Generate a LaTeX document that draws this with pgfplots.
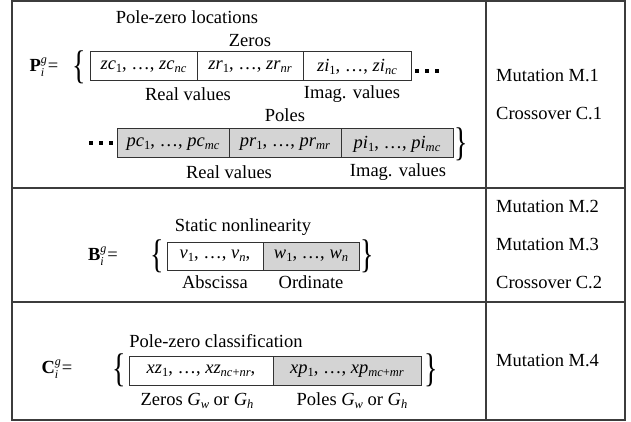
\documentclass[border=0pt]{standalone}
\usepackage{fontspec}
\setmainfont{Liberation Serif}
\usepackage{graphicx}
\usepackage{pgfplots}
\pgfplotsset{compat=1.18}
\definecolor{cellgray}{RGB}{212,212,212}
\definecolor{framec}{RGB}{60,60,60}
\definecolor{boxc}{RGB}{50,50,50}
\newcommand{\sbs}[1]{\raisebox{-0.35ex}{\fontsize{12.5}{13}\selectfont #1}}
\newcommand{\sbi}[1]{\raisebox{-0.6ex}{\fontsize{12}{13}\selectfont #1}}
\newcommand{\sps}[1]{\raisebox{0.95ex}{\fontsize{12}{13}\selectfont #1}}
\newcommand{\lbr}{\scalebox{0.7}[1]{\fontsize{40}{40}\selectfont\{}}
\newcommand{\rbr}{\scalebox{0.7}[1]{\fontsize{40}{40}\selectfont\}}}
\newcommand{\vecname}[3]{\textbf{#1}\makebox[7pt][l]{\rlap{\sps{\textit{#2}}}\sbi{\textit{#3}}}=}
\begin{document}
\begin{tikzpicture}
\begin{axis}[width=631pt, height=422pt, scale only axis,
  xmin=0, xmax=631, ymin=0, ymax=422, y dir=reverse,
  hide axis, clip=false]
\tikzset{t/.style={font=\fontsize{18.5}{21}\selectfont, inner sep=0pt},
         cell/.style={draw=boxc, line width=1pt}}
\fill[white] (0,0) rectangle (631,422);
% ---------- frame ----------
\draw[framec, line width=1.4pt] (12,1) rectangle (625,420);
\draw[framec, line width=1.2pt] (486,1) -- (486,420);
\draw[framec, line width=1.4pt] (12,188) -- (625,188);
\draw[framec, line width=1.4pt] (12,302) -- (625,302);
% ---------- row 1 ----------
\node[t] at (187,17) {Pole-zero locations};
\node[t] at (250,41) {Zeros};
\node[t] at (44,67) {\vecname{P}{g}{i}};
\node[t] at (79,67) {\lbr};
\draw[cell] (90,52) rectangle (197,81);
\draw[cell] (197,52) rectangle (303,81);
\draw[cell] (303,52) rectangle (411,81);
\node[t] at (143.5,67) {\textit{zc}\sbs{1}, …, \textit{zc}\sbs{\textit{nc}}};
\node[t] at (250,67) {\textit{zr}\sbs{1}, …, \textit{zr}\sbs{\textit{nr}}};
\node[t] at (357,67) {\textit{zi}\sbs{1}, …, \textit{zi}\sbs{\textit{nc}}};
\fill[black] (415,69) rectangle (419,73);
\fill[black] (425,69) rectangle (429,73);
\fill[black] (435,69) rectangle (439,73);
\node[t] at (188,94) {Real values};
\node[t] at (352,94) {Imag. values};
\node[t] at (285,115) {Poles};
\fill[black] (89,141) rectangle (93,145);
\fill[black] (99,141) rectangle (103,145);
\fill[black] (109,141) rectangle (113,145);
\draw[cell, fill=cellgray] (117,129) rectangle (229,158);
\draw[cell, fill=cellgray] (229,129) rectangle (341,158);
\draw[cell, fill=cellgray] (341,129) rectangle (453,158);
\node[t] at (173,144) {\textit{pc}\sbs{1}, …, \textit{pc}\sbs{\textit{mc}}};
\node[t] at (285,144) {\textit{pr}\sbs{1}, …, \textit{pr}\sbs{\textit{mr}}};
\node[t] at (397,144) {\textit{pi}\sbs{1}, …, \textit{pi}\sbs{\textit{mc}}};
\node[t] at (461,144) {\rbr};
\node[t] at (229,172) {Real values};
\node[t] at (398,172) {Imag. values};
\node[t, anchor=west] at (496,76) {Mutation M.1};
\node[t, anchor=west] at (496,114) {Crossover C.1};
% ---------- row 2 ----------
\node[t] at (243,227) {Static nonlinearity};
\node[t] at (103,256) {\vecname{B}{g}{i}};
\node[t] at (157,256) {\lbr};
\draw[cell] (167,242) rectangle (263,270);
\draw[cell, fill=cellgray] (263,242) rectangle (359,270);
\node[t] at (215,256) {\textit{v}\sbs{1}, …, \textit{v}\sbs{\textit{n}},};
\node[t] at (311,256) {\textit{w}\sbs{1}, …, \textit{w}\sbs{\textit{n}}};
\node[t] at (367,256) {\rbr};
\node[t] at (215,282) {Abscissa};
\node[t] at (311,282) {Ordinate};
\node[t, anchor=west] at (496,207) {Mutation M.2};
\node[t, anchor=west] at (496,245) {Mutation M.3};
\node[t, anchor=west] at (496,283) {Crossover C.2};
% ---------- row 3 ----------
\node[t] at (216,341) {Pole-zero classification};
\node[t] at (57,369) {\vecname{C}{g}{i}};
\node[t] at (119,370) {\lbr};
\draw[cell] (129,356) rectangle (273,385);
\draw[cell, fill=cellgray] (273,356) rectangle (421,385);
\node[t] at (201,371) {\textit{xz}\sbs{1}, …, \textit{xz}\sbs{\textit{nc}+\textit{nr}},};
\node[t] at (347,371) {\textit{xp}\sbs{1}, …, \textit{xp}\sbs{\textit{mc}+\textit{mr}}};
\node[t] at (431,370) {\rbr};
\node[t] at (197,401) {Zeros \textit{G}\sbs{\textit{w}} or \textit{G}\sbs{\textit{h}}};
\node[t] at (352,401) {Poles \textit{G}\sbs{\textit{w}} or \textit{G}\sbs{\textit{h}}};
\node[t, anchor=west] at (496,361) {Mutation M.4};
\end{axis}
\end{tikzpicture}
\end{document}
